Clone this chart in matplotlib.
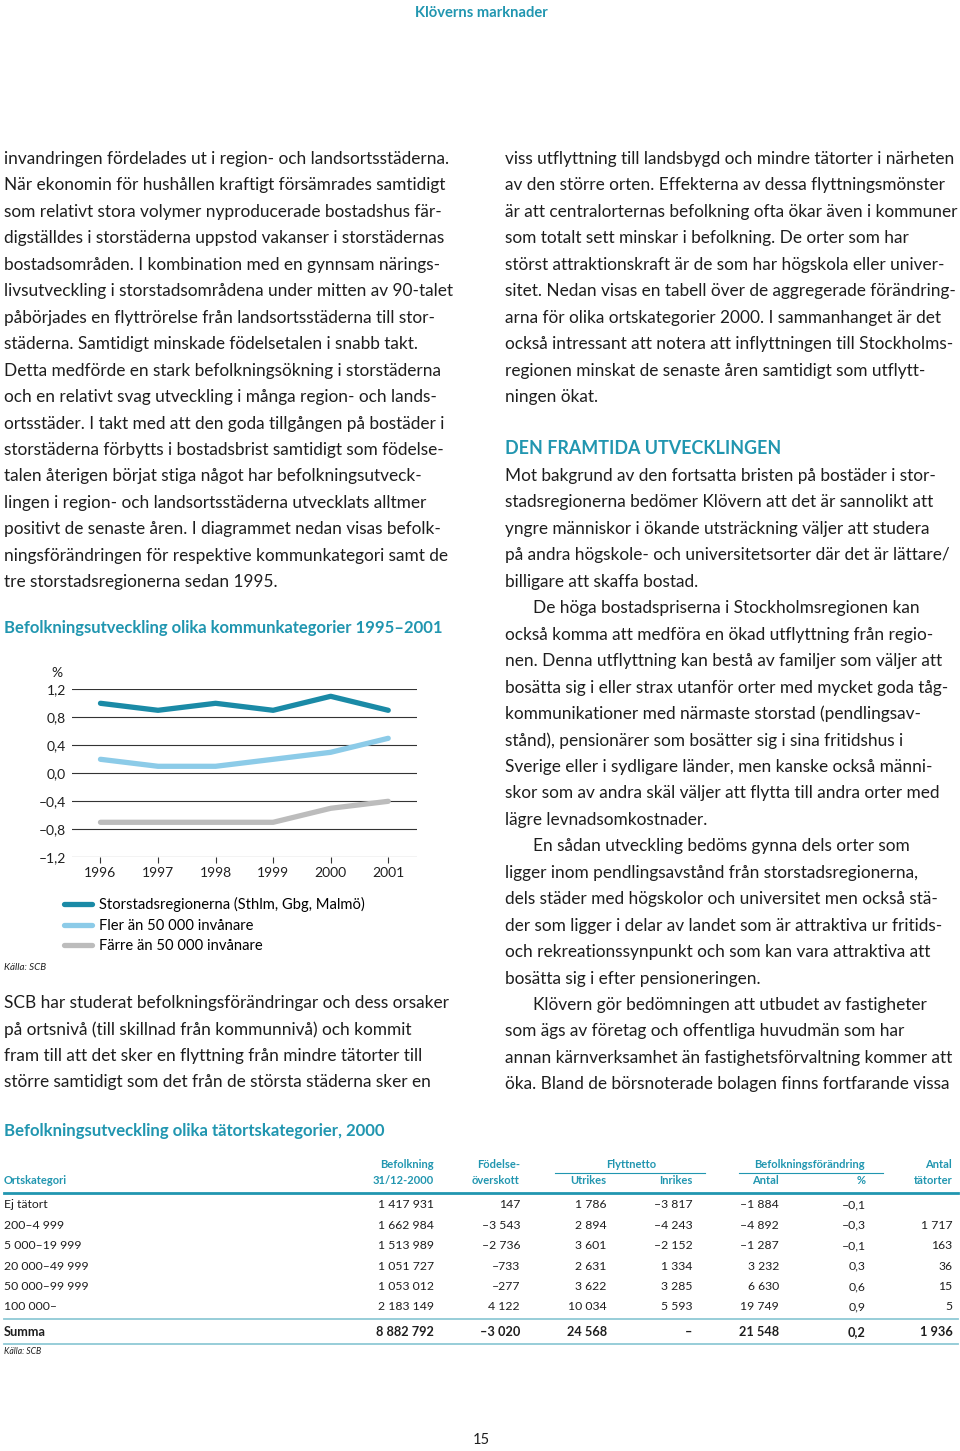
import matplotlib
matplotlib.use("Agg")
import matplotlib.pyplot as plt
from matplotlib.lines import Line2D
from matplotlib.ticker import FuncFormatter

W, H = 960, 1451
TEAL = "#2196b0"
TEXT = "#1e1e1e"

# chart data (% per year)
years = [1996, 1997, 1998, 1999, 2000, 2001]
storstad = [1.0, 0.9, 1.0, 0.9, 1.1, 0.9]
fler = [0.2, 0.1, 0.1, 0.2, 0.3, 0.5]
farre = [-0.7, -0.7, -0.7, -0.7, -0.5, -0.4]
series_names = ["Storstadsregionerna (Sthlm, Gbg, Malmö)",
                "Fler än 50 000 invånare",
                "Färre än 50 000 invånare"]
series_colors = ["#1a8aa6", "#8ccbe8", "#bcbcbc"]
y_ticks = [-1.2, -0.8, -0.4, 0.0, 0.4, 0.8, 1.2]

# table data
categories = ["Ej tätort", "200–4 999", "5 000–19 999", "20 000–49 999",
              "50 000–99 999", "100 000–"]
befolkning = [1417931, 1662984, 1513989, 1051727, 1053012, 2183149]
fodelse = [147, -3543, -2736, -733, -277, 4122]
utrikes = [1786, 2894, 3601, 2631, 3622, 10034]
inrikes = [-3817, -4243, -2152, 1334, 3285, 5593]
forandr_antal = [-1884, -4892, -1287, 3232, 6630, 19749]
forandr_pct = [-0.1, -0.3, -0.1, 0.3, 0.6, 0.9]
antal_tatorter = [None, 1717, 163, 36, 15, 5]
summa = [8882792, -3020, 24568, None, 21548, 0.2, 1936]

left_text = [
    "invandringen fördelades ut i region- och landsortsstäderna.",
    "När ekonomin för hushållen kraftigt försämrades samtidigt",
    "som relativt stora volymer nyproducerade bostadshus fär-",
    "digställdes i storstäderna uppstod vakanser i storstädernas",
    "bostadsområden. I kombination med en gynnsam närings-",
    "livsutveckling i storstadsområdena under mitten av 90-talet",
    "påbörjades en flyttrörelse från landsortsstäderna till stor-",
    "städerna. Samtidigt minskade födelsetalen i snabb takt.",
    "Detta medförde en stark befolkningsökning i storstäderna",
    "och en relativt svag utveckling i många region- och lands-",
    "ortsstäder. I takt med att den goda tillgången på bostäder i",
    "storstäderna förbytts i bostadsbrist samtidigt som födelse-",
    "talen återigen börjat stiga något har befolkningsutveck-",
    "lingen i region- och landsortsstäderna utvecklats alltmer",
    "positivt de senaste åren. I diagrammet nedan visas befolk-",
    "ningsförändringen för respektive kommunkategori samt de",
    "tre storstadsregionerna sedan 1995.",
]
left_text2 = [
    "SCB har studerat befolkningsförändringar och dess orsaker",
    "på ortsnivå (till skillnad från kommunnivå) och kommit",
    "fram till att det sker en flyttning från mindre tätorter till",
    "större samtidigt som det från de största städerna sker en",
]
right_text = [
    "viss utflyttning till landsbygd och mindre tätorter i närheten",
    "av den större orten. Effekterna av dessa flyttningsmönster",
    "är att centralorternas befolkning ofta ökar även i kommuner",
    "som totalt sett minskar i befolkning. De orter som har",
    "störst attraktionskraft är de som har högskola eller univer-",
    "sitet. Nedan visas en tabell över de aggregerade förändring-",
    "arna för olika ortskategorier 2000. I sammanhanget är det",
    "också intressant att notera att inflyttningen till Stockholms-",
    "regionen minskat de senaste åren samtidigt som utflytt-",
    "ningen ökat.",
]
right_text2 = [
    "Mot bakgrund av den fortsatta bristen på bostäder i stor-",
    "stadsregionerna bedömer Klövern att det är sannolikt att",
    "yngre människor i ökande utsträckning väljer att studera",
    "på andra högskole- och universitetsorter där det är lättare/",
    "billigare att skaffa bostad.",
    "\tDe höga bostadspriserna i Stockholmsregionen kan",
    "också komma att medföra en ökad utflyttning från regio-",
    "nen. Denna utflyttning kan bestå av familjer som väljer att",
    "bosätta sig i eller strax utanför orter med mycket goda tåg-",
    "kommunikationer med närmaste storstad (pendlingsav-",
    "stånd), pensionärer som bosätter sig i sina fritidshus i",
    "Sverige eller i sydligare länder, men kanske också männi-",
    "skor som av andra skäl väljer att flytta till andra orter med",
    "lägre levnadsomkostnader.",
    "\tEn sådan utveckling bedöms gynna dels orter som",
    "ligger inom pendlingsavstånd från storstadsregionerna,",
    "dels städer med högskolor och universitet men också stä-",
    "der som ligger i delar av landet som är attraktiva ur fritids-",
    "och rekreationssynpunkt och som kan vara attraktiva att",
    "bosätta sig i efter pensioneringen.",
    "\tKlövern gör bedömningen att utbudet av fastigheter",
    "som ägs av företag och offentliga huvudmän som har",
    "annan kärnverksamhet än fastighetsförvaltning kommer att",
    "öka. Bland de börsnoterade bolagen finns fortfarande vissa",
]

plt.rcParams["font.family"] = ["Lato", "DejaVu Sans"]

fig = plt.figure(figsize=(W / 100, H / 100), dpi=100)


def fx(x):
    return x / W


def fy(y):
    return 1 - y / H


def put(x, y, s, **kw):
    kw.setdefault("va", "center")
    kw.setdefault("color", TEXT)
    fig.text(fx(x), fy(y), s, **kw)


def hline(x0, x1, y, color, lw):
    fig.add_artist(Line2D([fx(x0), fx(x1)], [fy(y), fy(y)], color=color,
                          lw=lw, transform=fig.transFigure))


LS = 26.45
BODY = 12.45

put(481, 13, "Klöverns marknader", ha="center", color=TEAL, fontsize=10.6,
    fontweight="bold")

for i, s in enumerate(left_text):
    put(4, 159 + i * LS, s, fontsize=BODY)
for i, s in enumerate(left_text2):
    put(4, 1003 + i * LS, s, fontsize=BODY)
for i, s in enumerate(right_text):
    put(505, 159 + i * LS, s, fontsize=BODY)
put(505, 448, "DEN FRAMTIDA UTVECKLINGEN", color=TEAL, fontsize=12.9,
    fontweight="bold")
for i, s in enumerate(right_text2):
    x = 505
    if s.startswith("\t"):
        s = s[1:]
        x = 533
    put(x, 476 + i * LS, s, fontsize=BODY)

# line chart
put(4, 628, "Befolkningsutveckling olika kommunkategorier 1995–2001",
    color=TEAL, fontsize=12.0, fontweight="bold")
ax = fig.add_axes([fx(71.7), fy(857.3), (417 - 71.7) / W, (857.3 - 689.3) / H])
for vals, name, col in zip([storstad, fler, farre], series_names, series_colors):
    ax.plot(years, vals, color=col, lw=3.8, label=name, solid_capstyle="round",
            solid_joinstyle="round")
ax.set_xlim(1995.5, 2001.5)
ax.set_ylim(-1.2, 1.2)
ax.set_yticks(y_ticks)
ax.yaxis.set_major_formatter(FuncFormatter(
    lambda v, p: f"{v:.1f}".replace(".", ",").replace("-", "–")))
ax.set_xticks(years)
ax.grid(axis="y", color="#333333", lw=0.8)
ax.set_axisbelow(True)
for sp in ax.spines.values():
    sp.set_visible(False)
ax.tick_params(axis="y", length=0, pad=4, labelsize=10, labelcolor=TEXT)
ax.tick_params(axis="x", length=4, width=0.8, color="#333333", pad=3,
               labelsize=10, labelcolor=TEXT)
ax.set_facecolor("none")
put(57, 673, "%", ha="center", fontsize=10)
ax.legend(loc="upper left", bbox_to_anchor=(fx(64), fy(897)),
          bbox_transform=fig.transFigure, frameon=False, fontsize=10.6,
          handlelength=1.9, handletextpad=0.5, labelspacing=0.45,
          borderpad=0, borderaxespad=0)
put(4, 968, "Källa: SCB", fontsize=7, style="italic")


# table
def fmt(v):
    if v is None:
        return ""
    if isinstance(v, float):
        s = f"{abs(v):.1f}".replace(".", ",")
    else:
        s = f"{abs(v):,}".replace(",", " ")
    return ("–" if v < 0 else "") + s


put(4, 1131, "Befolkningsutveckling olika tätortskategorier, 2000",
    color=TEAL, fontsize=12.05, fontweight="bold")
HF = 8.0
hkw = dict(color=TEAL, fontsize=HF, fontweight="bold")
put(4, 1181, "Ortskategori", **hkw)
col_x = [434, 520, 606.7, 692.7, 779, 865.7, 952.3]
put(col_x[0], 1165, "Befolkning", ha="right", **hkw)
put(col_x[0], 1181, "31/12-2000", ha="right", **hkw)
put(col_x[1], 1165, "Födelse-", ha="right", **hkw)
put(col_x[1], 1181, "överskott", ha="right", **hkw)
put(631, 1165, "Flyttnetto", ha="center", **hkw)
put(col_x[2], 1181, "Utrikes", ha="right", **hkw)
put(col_x[3], 1181, "Inrikes", ha="right", **hkw)
put(809, 1165, "Befolkningsförändring", ha="center", **hkw)
put(col_x[4], 1181, "Antal", ha="right", **hkw)
put(col_x[5], 1181, "%", ha="right", **hkw)
put(col_x[6], 1165, "Antal", ha="right", **hkw)
put(col_x[6], 1181, "tätorter", ha="right", **hkw)
hline(555, 705, 1173, TEAL, 0.8)
hline(739, 883, 1173, TEAL, 0.8)
hline(4, 958, 1192.5, TEAL, 2.0)

cols = [befolkning, fodelse, utrikes, inrikes, forandr_antal, forandr_pct,
        antal_tatorter]
TF = 8.8
for r, cat in enumerate(categories):
    y = 1205 + r * 20.4
    put(4, y, cat, fontsize=TF)
    for c, col in enumerate(cols):
        put(col_x[c], y, fmt(col[r]), ha="right", fontsize=TF)
hline(4, 958, 1318.5, "#8fc9d6", 1.3)
put(4, 1332, "Summa", fontsize=9.2, fontweight="bold")
for c, v in enumerate(summa):
    put(col_x[c], 1332, "–" if v is None else fmt(v), ha="right", fontsize=9.2,
        fontweight="bold")
hline(4, 958, 1343.5, "#8fc9d6", 1.3)
put(4, 1352, "Källa: SCB", fontsize=6.2, style="italic")

put(481, 1440, "15", ha="center", fontsize=10.5)

fig.savefig("out.png", dpi=100)
